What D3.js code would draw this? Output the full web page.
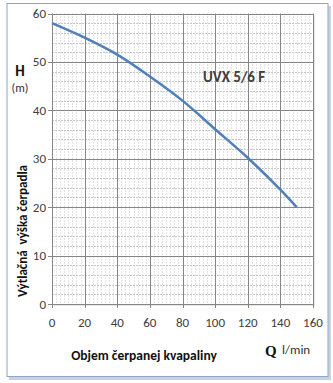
<!DOCTYPE html>
<html><head><meta charset="utf-8">
<script src="https://cdn.jsdelivr.net/npm/d3@7"></script>
<style>body{margin:0;background:#fff;}svg{display:block;}</style>
</head><body>
<svg id="c" width="333" height="383"></svg>
<script>
const flow = [0, 20, 40, 60, 80, 100, 120, 140, 150];
const head = [58, 55, 51.5, 47, 42, 36.1, 30.2, 23.6, 20];
const xTicks = [0, 20, 40, 60, 80, 100, 120, 140, 160];
const yTicks = [0, 10, 20, 30, 40, 50, 60];
const pumpName = "UVX 5/6 F";
const yTitle = "Výtlačná  výška čerpadla";
const xTitle = "Objem čerpanej kvapaliny";

const svg = d3.select("#c");
const font = "Calibri, Carlito, 'Open Sans', 'Liberation Sans', sans-serif";

// outer frame with shadow
svg.append("rect").attr("x", 9).attr("y", 6).attr("width", 322).attr("height", 374).attr("fill", "#c9d3e0");
svg.append("rect").attr("x", 7).attr("y", 3.5).attr("width", 321).attr("height", 373)
  .attr("fill", "#fff").attr("stroke", "#8fa5c4").attr("stroke-width", 1);

const x = d3.scaleLinear().domain([0, 160]).range([52, 313]);
const y = d3.scaleLinear().domain([0, 60]).range([304, 13.5]);

// plot shadow
svg.append("rect").attr("x", x(0) + 2).attr("y", y(60) + 2).attr("width", x(160) - x(0)).attr("height", y(0) - y(60))
  .attr("fill", "#e6e6e6");
svg.append("rect").attr("x", x(0)).attr("y", y(60)).attr("width", x(160) - x(0)).attr("height", y(0) - y(60))
  .attr("fill", "#fff");

const g = svg.append("g");
// minor grid
const xMinor = d3.range(0, 160.01, 2.5).filter(v => v % 20 !== 0);
const yMinor = d3.range(0, 60.01, 2).filter(v => v % 10 !== 0);
g.selectAll(".xm").data(xMinor).join("line")
  .attr("x1", d => Math.round(x(d)) + 0.5).attr("x2", d => Math.round(x(d)) + 0.5)
  .attr("y1", y(60)).attr("y2", y(0))
  .attr("stroke", "#c8c8c8").attr("stroke-width", 1).attr("stroke-dasharray", "1,2");
g.selectAll(".ym").data(yMinor).join("line")
  .attr("y1", d => Math.round(y(d)) + 0.5).attr("y2", d => Math.round(y(d)) + 0.5)
  .attr("x1", x(0)).attr("x2", x(160))
  .attr("stroke", "#c8c8c8").attr("stroke-width", 1).attr("stroke-dasharray", "2,1");
// major grid
g.selectAll(".xM").data(xTicks).join("line")
  .attr("x1", d => Math.round(x(d)) + 0.5).attr("x2", d => Math.round(x(d)) + 0.5)
  .attr("y1", y(60)).attr("y2", y(0) + 4)
  .attr("stroke", "#868686").attr("stroke-width", 1);
g.selectAll(".yM").data(yTicks).join("line")
  .attr("y1", d => Math.round(y(d)) + 0.5).attr("y2", d => Math.round(y(d)) + 0.5)
  .attr("x1", x(0) - 4).attr("x2", x(160))
  .attr("stroke", "#868686").attr("stroke-width", 1);

// tick labels
svg.selectAll(".yl").data(yTicks).join("text")
  .attr("x", 46).attr("y", d => y(d) + 4.5).attr("text-anchor", "end")
  .attr("font-family", font).attr("font-size", 13).attr("fill", "#404040").text(d => d);
svg.selectAll(".xl").data(xTicks).join("text")
  .attr("x", d => x(d)).attr("y", 327).attr("text-anchor", "middle")
  .attr("font-family", font).attr("font-size", 13).attr("fill", "#404040").text(d => d);

// curve
const line = d3.line().x((d, i) => x(flow[i])).y(d => y(d)).curve(d3.curveMonotoneX);
svg.append("path").datum(head).attr("d", line).attr("fill", "none")
  .attr("stroke", "#4f7fbc").attr("stroke-width", 2.5);

// labels
svg.append("text").attr("x", 203).attr("y", 82).attr("font-family", font).attr("font-weight", "bold")
  .attr("font-size", 15).attr("fill", "#404040").text(pumpName);
svg.append("text").attr("x", 20).attr("y", 76).attr("text-anchor", "middle").attr("font-family", font)
  .attr("font-weight", "bold").attr("font-size", 15).attr("fill", "#111").text("H");
svg.append("text").attr("x", 20).attr("y", 92).attr("text-anchor", "middle").attr("font-family", font)
  .attr("font-size", 12).attr("fill", "#333").text("(m)");
svg.append("text").attr("transform", "translate(27,231) rotate(-90)").attr("text-anchor", "middle")
  .attr("font-family", font).attr("font-weight", "bold").attr("font-size", 13).attr("fill", "#111")
  .attr("xml:space", "preserve").style("white-space", "pre").text(yTitle);
svg.append("text").attr("x", 144).attr("y", 360).attr("text-anchor", "middle").attr("font-family", font)
  .attr("font-weight", "bold").attr("font-size", 13.5).attr("fill", "#111").text(xTitle);
svg.append("text").attr("x", 265).attr("y", 356).attr("font-family", "'Liberation Serif', serif")
  .attr("font-weight", "bold").attr("font-size", 15).attr("fill", "#111").text("Q");
svg.append("text").attr("x", 282).attr("y", 354).attr("font-family", font)
  .attr("font-size", 13).attr("fill", "#333").text("l/min");
</script>
</body></html>
